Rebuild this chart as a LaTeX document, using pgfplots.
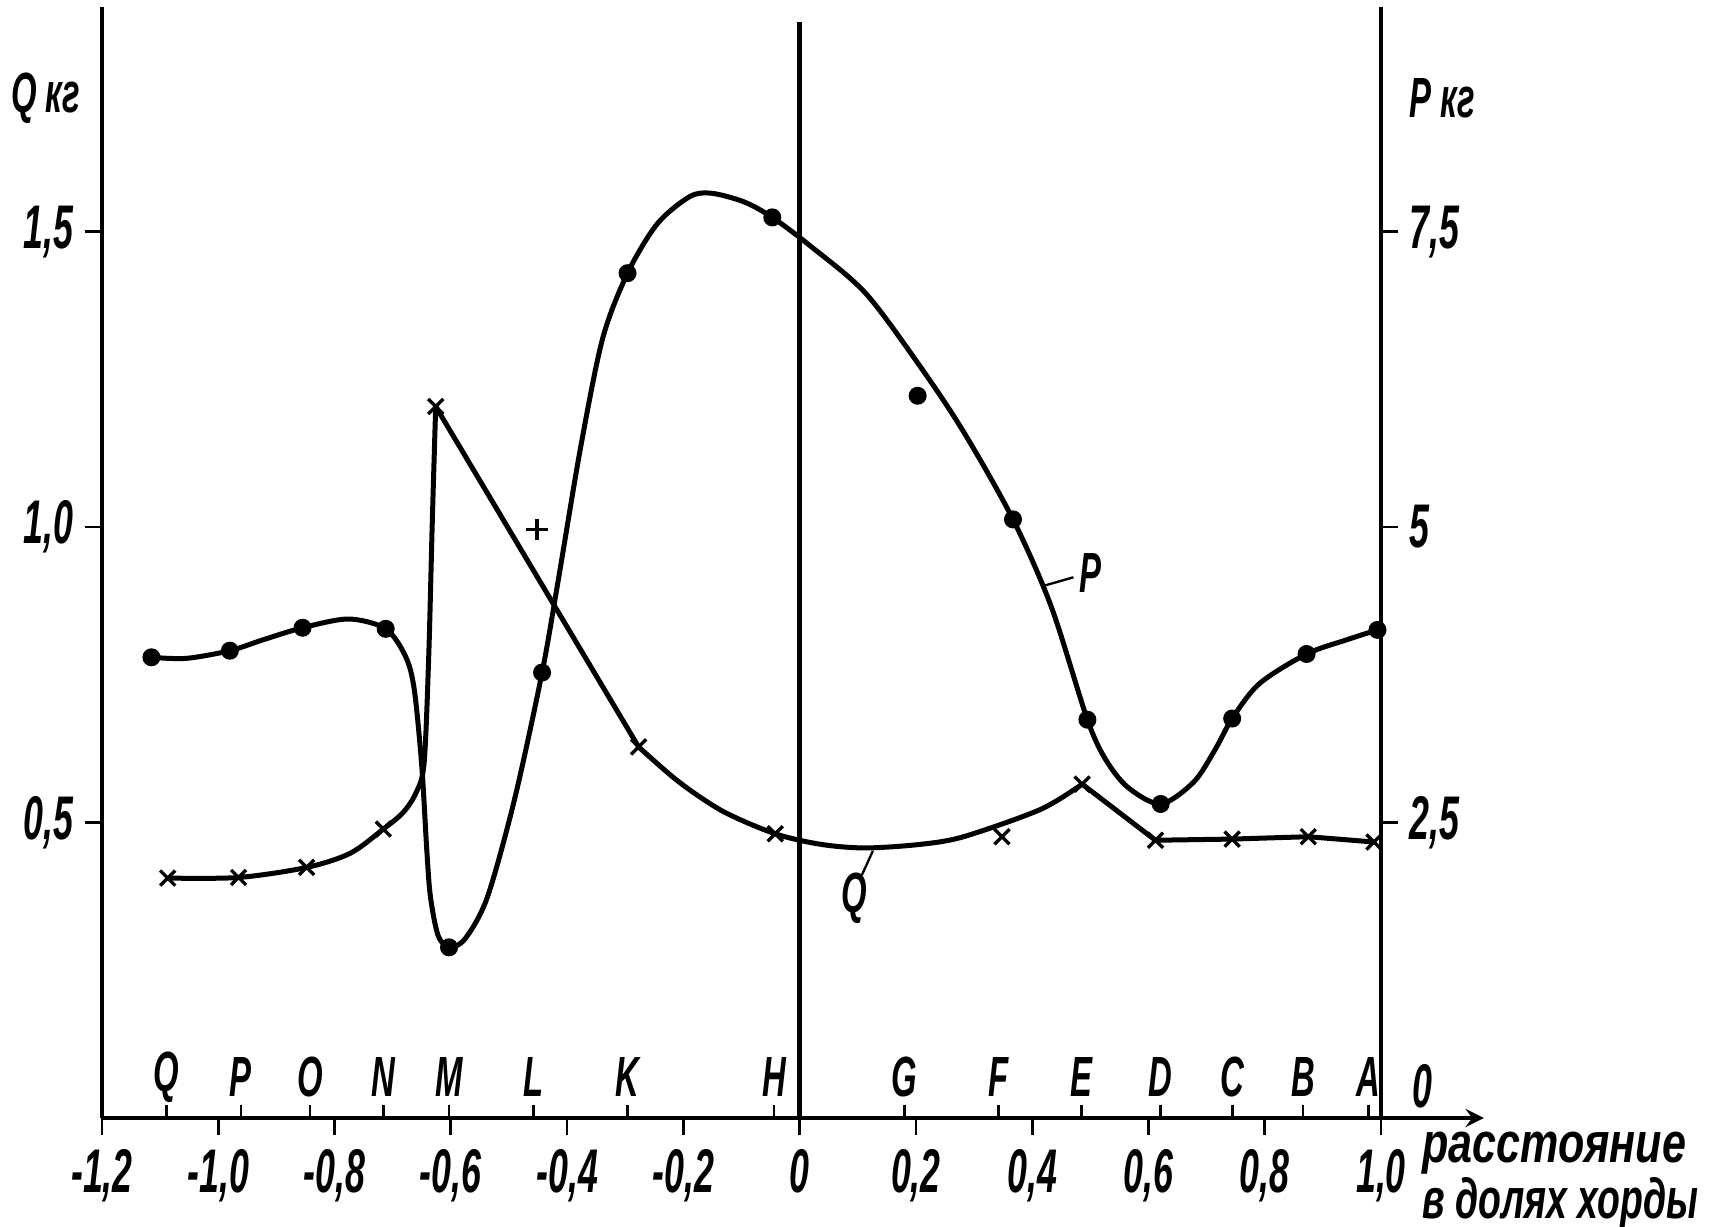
\documentclass[border=0pt]{standalone}
\usepackage{fontspec}
\setmainfont{Liberation Sans}[FakeStretch=0.58]
\newfontfamily\wordfont{Liberation Sans}[FakeStretch=0.76]
\newfontfamily\wordfontb{Liberation Sans}[FakeStretch=0.66]
\usepackage{pgfplots}
\pgfplotsset{compat=1.18}
\begin{document}
\begin{tikzpicture}
\path[use as bounding box] (-30.6pt,-32.4pt) rectangle (484.2pt,335.4pt);
\begin{axis}[
  at={(0,0)}, anchor=south west, scale only axis,
  width=383.7pt, height=333.3pt,
  xmin=-1.2, xmax=1.0, ymin=0, ymax=1.88,
  axis x line=bottom, axis y line=left,
  axis line style={line width=1.4pt,-},
  clip=false,
  xtick={-1.2,-1.0,-0.8,-0.6,-0.4,-0.2,0,0.2,0.4,0.6,0.8,1.0},
  xticklabels={{-1,2},{-1,0},{-0,8},{-0,6},{-0,4},{-0,2},{0},{0,2},{0,4},{0,6},{0,8},{1,0}},
  extra x ticks={-1.089,-0.961,-0.842,-0.716,-0.603,-0.458,-0.296,-0.044,0.180,0.342,0.485,0.621,0.745,0.866,0.979},
  extra x tick labels={},
  extra x tick style={tick align=inside, major tick length=4pt},
  ytick={0.5,1.0,1.5},
  yticklabels={{0,5},{1,0},{1,5}},
  tick align=outside,
  major tick length=5pt,
  tick style={line width=0.8pt, black},
  ticklabel style={font=\bfseries\itshape\fontsize{18.5}{18.5}\selectfont},
  xticklabel style={yshift=-1pt},
]
% Q curve (kg)
\addplot[line width=1.5pt, smooth, tension=0.5] coordinates {
(-1.087,0.406) (-0.965,0.407) (-0.848,0.424) (-0.773,0.448) (-0.716,0.489)
(-0.682,0.517) (-0.660,0.550) (-0.646,0.600) (-0.638,0.781) (-0.632,1.004) (-0.626,1.204)};
\addplot[line width=1.5pt] coordinates {(-0.626,1.204) (-0.277,0.628)};
\addplot[line width=1.5pt, smooth] coordinates {
(-0.277,0.628) (-0.208,0.569) (-0.132,0.519) (-0.042,0.481) (0.037,0.463)
(0.113,0.457) (0.207,0.463) (0.282,0.476) (0.414,0.522) (0.486,0.565)};
\addplot[line width=1.5pt] coordinates {
(0.486,0.565) (0.612,0.470) (0.744,0.472) (0.875,0.476) (0.988,0.467)};
% Q measured points
\addplot[only marks, mark=x, mark size=3.2pt, mark options={line width=1pt}] coordinates {
(-1.087,0.406) (-0.965,0.407) (-0.848,0.424) (-0.716,0.489) (-0.626,1.204)
(-0.277,0.628) (-0.042,0.481) (0.348,0.476) (0.486,0.565) (0.612,0.470)
(0.744,0.472) (0.875,0.476) (0.988,0.467)};
\addplot[only marks, mark=+, mark size=3.2pt, mark options={line width=1pt}] coordinates {(-0.452,0.996)};
% axes decorations
\draw[line width=1.4pt] (axis cs:0,0) -- (axis cs:0,1.855);
\draw[line width=1.4pt,-stealth] (axis cs:1.0,0) -- (axis cs:1.177,0);
% titles
\node[anchor=east, font=\bfseries\itshape\fontsize{17}{17}\selectfont] at ([xshift=-3pt]axis cs:-1.2,1.726) {Q кг};
\node[anchor=west, font=\bfseries\itshape\fontsize{17}{17}\selectfont] at ([xshift=5pt]axis cs:1.0,1.726) {P кг};
\node[anchor=north west, align=left, inner sep=0pt, font=\bfseries\itshape\fontsize{17}{14}\selectfont] at (axis cs:1.070,-0.022) {{\wordfont\bfseries\itshape расстояние}\\{\wordfontb\bfseries\itshape в долях хорды}};
% station letters
\begin{scope}[every node/.style={font=\bfseries\itshape\fontsize{17}{17}\selectfont}]
\node at (axis cs:-1.089,0.069) {Q};
\node at (axis cs:-0.961,0.069) {P};
\node at (axis cs:-0.842,0.069) {O};
\node at (axis cs:-0.716,0.069) {N};
\node at (axis cs:-0.603,0.069) {M};
\node at (axis cs:-0.458,0.069) {L};
\node at (axis cs:-0.296,0.069) {K};
\node at (axis cs:-0.044,0.069) {H};
\node at (axis cs:0.180,0.069) {G};
\node at (axis cs:0.342,0.069) {F};
\node at (axis cs:0.485,0.069) {E};
\node at (axis cs:0.621,0.069) {D};
\node at (axis cs:0.745,0.069) {C};
\node at (axis cs:0.866,0.069) {B};
\node at (axis cs:0.979,0.069) {A};
\end{scope}
% curve labels
\draw[line width=0.7pt] (axis cs:0.107,0.411) -- (axis cs:0.126,0.452);
\node[font=\bfseries\itshape\fontsize{17}{17}\selectfont] at (axis cs:0.094,0.372) {Q};
\draw[line width=0.7pt] (axis cs:0.418,0.900) -- (axis cs:0.471,0.915);
\node[anchor=west, font=\bfseries\itshape\fontsize{17}{17}\selectfont, inner sep=1pt] at (axis cs:0.474,0.922) {P};
\end{axis}
\begin{axis}[
  at={(0,0)}, anchor=south west, scale only axis,
  width=383.7pt, height=333.3pt,
  xmin=-1.2, xmax=1.0, ymin=0, ymax=9.4,
  axis x line=none, axis y line=right,
  axis line style={line width=1.4pt,-},
  clip=false,
  ytick={2.5,5,7.5},
  yticklabels={{2,5},{5},{7,5}},
  tick align=outside,
  major tick length=5pt,
  tick style={line width=0.8pt, black},
  ticklabel style={font=\bfseries\itshape\fontsize{18.5}{18.5}\selectfont},
]
% P curve (kg)
\addplot[line width=1.5pt, smooth, tension=0.5] coordinates {
(-1.115,3.898) (-1.055,3.889) (-0.980,3.954) (-0.923,4.046) (-0.855,4.148)
(-0.776,4.222) (-0.712,4.139) (-0.678,3.907) (-0.663,3.630) (-0.650,2.981)
(-0.641,2.241) (-0.635,1.870) (-0.622,1.546) (-0.603,1.444) (-0.575,1.519)
(-0.537,1.870) (-0.490,2.704) (-0.443,3.769) (-0.415,4.556) (-0.377,5.667)
(-0.339,6.593) (-0.296,7.148) (-0.245,7.565) (-0.189,7.796) (-0.151,7.824)
(-0.095,7.750) (-0.047,7.620) (0.018,7.380) (0.113,6.981) (0.207,6.361)
(0.282,5.806) (0.367,5.065) (0.433,4.324) (0.495,3.370) (0.527,3.028)
(0.565,2.796) (0.621,2.657) (0.678,2.843) (0.715,3.120) (0.744,3.380)
(0.791,3.676) (0.872,3.926) (0.941,4.046) (0.994,4.130)};
% P measured points
\addplot[only marks, mark=*, mark size=2.5pt] coordinates {
(-1.115,3.898) (-0.980,3.954) (-0.855,4.148) (-0.712,4.139) (-0.603,1.444)
(-0.443,3.769) (-0.296,7.148) (-0.047,7.620) (0.203,6.111) (0.367,5.065)
(0.495,3.370) (0.621,2.657) (0.744,3.380) (0.872,3.926) (0.994,4.130)};
\node[anchor=west, font=\bfseries\itshape\fontsize{18.5}{18.5}\selectfont] at ([xshift=6pt]axis cs:1.0,0.27) {0};
\end{axis}
\end{tikzpicture}
\end{document}
